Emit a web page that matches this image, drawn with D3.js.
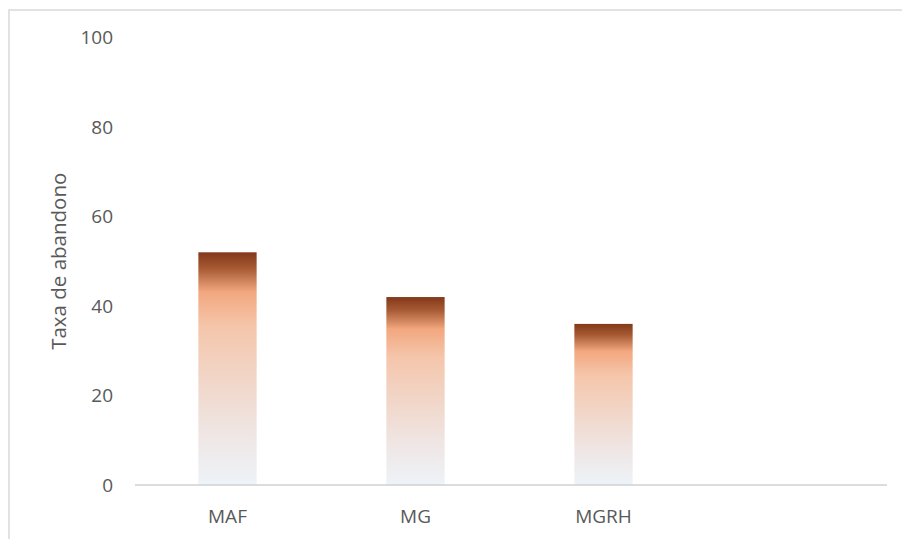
<!DOCTYPE html>
<html>
<head>
<meta charset="utf-8">
<script src="https://cdn.jsdelivr.net/npm/d3@7"></script>
<style>
  html, body { margin: 0; padding: 0; background: #fff; }
  svg { display: block; }
  text { font-family: "Open Sans", "Noto Sans", sans-serif; fill: #595959; }
</style>
</head>
<body>
<svg id="chart" width="902" height="539"></svg>
<script>
// Dropout rate per programme
const categories = ["MAF", "MG", "MGRH", ""];
const values = [52, 42, 36, null];
const yTicks = [0, 20, 40, 60, 80, 100];
const yTitle = "Taxa de abandono";

const W = 902, H = 539;
const svg = d3.select("#chart");

// Chart frame (top and left edges visible)
svg.append("path")
  .attr("d", `M9,${H} V10 H${W}`)
  .attr("fill", "none")
  .attr("stroke", "#d9d9d9")
  .attr("stroke-width", 1.5);

const x = d3.scaleBand().domain(categories).range([133.5, 885.5]).paddingInner(0.69).paddingOuter(0.345);
const y = d3.scaleLinear().domain([0, 100]).range([485, 37.5]);

// Vertical gradient used by each bar
const defs = svg.append("defs");
const grad = defs.append("linearGradient")
  .attr("id", "barGrad")
  .attr("x1", 0).attr("y1", 0).attr("x2", 0).attr("y2", 1);
[
  [0, "#82391a"],
  [0.07, "#a75a33"],
  [0.17, "#f2a77f"],
  [0.32, "#f5c6ab"],
  [0.55, "#f1d6c8"],
  [0.78, "#efe6e4"],
  [1, "#edf3f8"]
].forEach(([o, c]) => grad.append("stop").attr("offset", o).attr("stop-color", c));

// Y axis labels
svg.append("g").selectAll("text")
  .data(yTicks)
  .join("text")
  .attr("x", 113)
  .attr("y", d => y(d))
  .attr("dy", "0.35em")
  .attr("text-anchor", "end")
  .attr("font-size", 19)
  .text(d => d);

// Y axis title
svg.append("text")
  .attr("transform", `translate(66,${y(50)}) rotate(-90)`)
  .attr("text-anchor", "middle")
  .attr("font-size", 20.5)
  .text(yTitle);

// Bars
svg.append("g").selectAll("rect")
  .data(categories.map((c, i) => ({ c, v: values[i] })).filter(d => d.v != null))
  .join("rect")
  .attr("x", d => x(d.c))
  .attr("width", x.bandwidth())
  .attr("y", d => y(d.v))
  .attr("height", d => y(0) - y(d.v))
  .attr("fill", "url(#barGrad)");

// Baseline
svg.append("line")
  .attr("x1", 135).attr("x2", 887)
  .attr("y1", y(0)).attr("y2", y(0))
  .attr("stroke", "#d0d0d0")
  .attr("stroke-width", 1.5);

// Category labels
svg.append("g").selectAll("text")
  .data(categories.filter(c => c))
  .join("text")
  .attr("x", d => x(d) + x.bandwidth() / 2)
  .attr("y", 516)
  .attr("dy", "0.35em")
  .attr("text-anchor", "middle")
  .attr("font-size", 19)
  .text(d => d);
</script>
</body>
</html>
